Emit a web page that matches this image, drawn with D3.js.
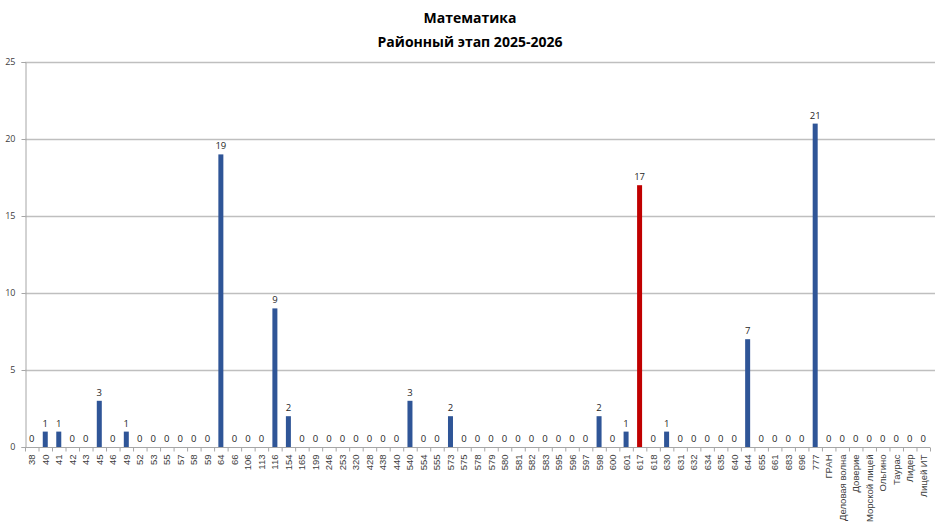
<!DOCTYPE html>
<html>
  <head>
    <meta charset="utf-8" />
    <title>Математика</title>
    <script src="https://d3js.org/d3.v7.min.js"></script>
    <style>
        body { margin:0; background:#fff; }
        text { font-family: "Open Sans", "DejaVu Sans", sans-serif; fill:#404040; }
    </style>
  </head>
  <body>
    <svg id="viz"></svg>
    <script>
        var categories = ["38","40","41","42","43","45","46","49","52","53","55","57","58","59","64","66",
            "106","113","116","154","165","199","246","253","320","428","438","440","540","554","555",
            "573","575","578","579","580","581","582","583","595","596","597","598","600","601","617",
            "618","630","631","632","634","635","640","644","655","661","683","696","777","ГРАН",
            "Деловая волна","Доверие","Морской лицей","Ольгино","Таурас","Лидер","Лицей ИТ"];
        var values = [0,1,1,0,0,3,0,1,0,0,0,0,0,0,19,0,
            0,0,9,2,0,0,0,0,0,0,0,0,3,0,0,
            2,0,0,0,0,0,0,0,0,0,0,2,0,1,17,
            0,1,0,0,0,0,0,7,0,0,0,0,21,0,
            0,0,0,0,0,0,0];
        var highlight = ["617"];
        var yTicks = [0,5,10,15,20,25];

        var width = 940, height = 529;
        var plotLeft = 25, plotRight = 930, plotTop = 62, plotBottom = 447;

        var svg = d3.select("#viz").attr("width", width).attr("height", height);

        var x = d3.scaleBand().domain(categories).range([plotLeft, plotRight]);
        var y = d3.scaleLinear().domain([0, 25]).range([plotBottom, plotTop]);

        // title
        svg.append("text").attr("x", 470).attr("y", 23).attr("text-anchor", "middle")
            .style("font-size", "14px").style("font-weight", "bold").style("fill", "#000")
            .text("Математика");
        svg.append("text").attr("x", 470).attr("y", 47).attr("text-anchor", "middle")
            .style("font-size", "14px").style("font-weight", "bold").style("fill", "#000")
            .text("Районный этап 2025-2026");

        // gridlines
        svg.append("g").selectAll("line").data(yTicks.filter(function(d){ return d > 0; }))
            .enter().append("line")
            .attr("x1", plotLeft).attr("x2", 935)
            .attr("y1", function(d){ return y(d) + 0.5; })
            .attr("y2", function(d){ return y(d) + 0.5; })
            .attr("stroke", "#bfbfbf").attr("stroke-width", 1.5);

        // y axis
        var yAxis = d3.axisLeft(y).tickValues(yTicks).tickSize(4).tickPadding(6);
        var gy = svg.append("g").attr("transform", "translate(" + (plotLeft + 0.5) + ",0)").call(yAxis);
        gy.selectAll("line, path").attr("stroke", "#a6a6a6");
        gy.selectAll("text").style("font-size", "9px").style("font-family", "\"Open Sans\", sans-serif").style("fill", "#404040");

        // x axis
        var gx = svg.append("g").attr("transform", "translate(0," + (plotBottom + 0.5) + ")");
        gx.append("line").attr("x1", plotLeft).attr("x2", plotRight).attr("stroke", "#a6a6a6");
        gx.selectAll(".tk").data(categories.concat(["__end"])).enter().append("line")
            .attr("x1", function(d, i){ return plotLeft + i * x.step() + 0.5; })
            .attr("x2", function(d, i){ return plotLeft + i * x.step() + 0.5; })
            .attr("y1", 0).attr("y2", 4).attr("stroke", "#a6a6a6");
        gx.selectAll(".lbl").data(categories).enter().append("text")
            .attr("transform", function(d){
                return "translate(" + (x(d) + x.bandwidth() / 2 + 3.5) + ",7) rotate(-90)";
            })
            .attr("text-anchor", "end")
            .style("font-size", "9.5px")
            .style("font-family", "\"Liberation Sans\", Arial, sans-serif")
            .style("fill", "#404040")
            .text(function(d){ return d; });

        // bars
        var data = categories.map(function(c, i){ return {cat: c, val: values[i]}; });
        var barW = 5;
        svg.append("g").selectAll("rect").data(data).enter().append("rect")
            .attr("x", function(d){ return x(d.cat) + x.bandwidth() / 2 - barW / 2; })
            .attr("width", barW)
            .attr("y", function(d){ return y(d.val); })
            .attr("height", function(d){ return plotBottom - y(d.val); })
            .attr("fill", function(d){ return highlight.indexOf(d.cat) >= 0 ? "#c00000" : "#2f5597"; });

        // value labels
        svg.append("g").selectAll("text").data(data).enter().append("text")
            .attr("x", function(d){ return x(d.cat) + x.bandwidth() / 2; })
            .attr("y", function(d){ return y(d.val) - 5; })
            .attr("text-anchor", "middle")
            .style("font-size", "9.5px")
            .style("fill", "#262626")
            .text(function(d){ return d.val; });
    </script>
  </body>
</html>
